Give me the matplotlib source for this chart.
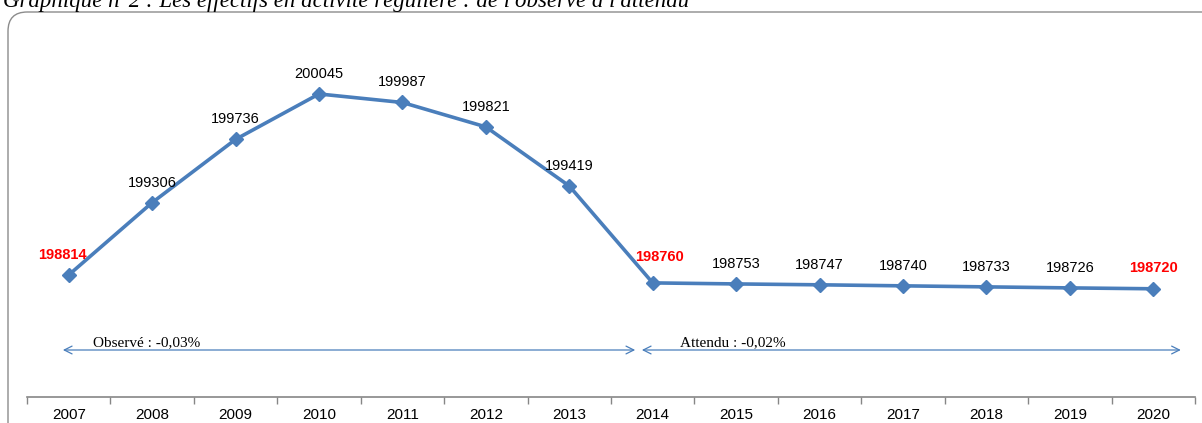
import matplotlib
matplotlib.use("Agg")
import matplotlib.pyplot as plt
from matplotlib.patches import FancyBboxPatch
import matplotlib.transforms as mtransforms

years = ["2007", "2008", "2009", "2010", "2011", "2012", "2013",
         "2014", "2015", "2016", "2017", "2018", "2019", "2020"]
values = [198814, 199306, 199736, 200045, 199987, 199821, 199419,
          198760, 198753, 198747, 198740, 198733, 198726, 198720]
highlight = ["2007", "2014", "2020"]
title = "Graphique n°2 : Les effectifs en activité régulière : de l'observé à l'attendu"
observed_text = "Observé : -0,03%"
expected_text = "Attendu : -0,02%"

W, H = 1202, 423
fig = plt.figure(figsize=(W / 100, H / 100), dpi=100)

# rounded frame (extends past right and bottom edges)
frame = FancyBboxPatch((8 / W, -30 / H), (W + 30) / W, (H - 12 + 30) / H,
                       boxstyle="round,pad=0,rounding_size=0.016",
                       transform=fig.transFigure, facecolor="none",
                       edgecolor="#8c8c8c", linewidth=1.0, zorder=-5,
                       mutation_aspect=W / H)
fig.patches.append(frame)

fig.text(3 / W, (H - 7) / H, title, fontsize=16.5, fontstyle="italic",
         family="Liberation Serif", ha="left", va="baseline")

ax = fig.add_axes([27 / W, (H - 397) / H, (1195 - 27) / W, (397 - 20) / H])
ax.set_facecolor("none")
x = list(range(len(years)))
color = "#4A7EBB"
ax.plot(x, values, color=color, linewidth=2.6, marker="D", markersize=7,
        markerfacecolor=color, markeredgecolor=color, zorder=3)

ax.set_xlim(-0.5, len(years) - 0.5)
ax.set_ylim(197984, 200548)

for sp in ["top", "right", "left"]:
    ax.spines[sp].set_visible(False)
ax.spines["bottom"].set_color("#868686")
ax.spines["bottom"].set_linewidth(1.2)
ax.set_yticks([])
ax.set_xticks(x)
ax.set_xticklabels(years, fontsize=11, family="Liberation Sans")
ax.tick_params(axis="x", length=0, pad=8)
ax.set_xticks([i - 0.5 for i in range(len(years) + 1)], minor=True)
ax.tick_params(axis="x", which="minor", length=5, color="#868686", width=1)

for i, (yr, v) in enumerate(zip(years, values)):
    if yr in highlight:
        dx = {"2007": -6, "2014": 7, "2020": 0}[yr]
        dy = {"2007": 20, "2014": 26, "2020": 21}[yr]
        ax.annotate(str(v), (i, v), xytext=(dx, dy), textcoords="offset pixels",
                    ha="center", va="center", fontsize=10.5, color="red",
                    fontweight="bold", family="Liberation Sans")
    else:
        ax.annotate(str(v), (i, v), xytext=(0, 20), textcoords="offset pixels",
                    ha="center", va="center", fontsize=10.5, color="black",
                    family="Liberation Sans")

trans = mtransforms.blended_transform_factory(ax.transData, ax.transAxes)
yarr = (397 - 350) / 377
ax.annotate("", xy=(-0.07, yarr), xytext=(6.79, yarr), xycoords=trans, textcoords=trans,
            arrowprops=dict(arrowstyle="<->", color=color, lw=0.9,
                            mutation_scale=14, shrinkA=0, shrinkB=0))
ax.annotate("", xy=(6.87, yarr), xytext=(13.33, yarr), xycoords=trans, textcoords=trans,
            arrowprops=dict(arrowstyle="<->", color=color, lw=0.9,
                            mutation_scale=14, shrinkA=0, shrinkB=0))
ax.text(0.29, yarr + 0.002, observed_text, transform=trans, fontsize=11,
        family="Liberation Serif", ha="left", va="bottom")
ax.text(7.33, yarr + 0.002, expected_text, transform=trans, fontsize=11,
        family="Liberation Serif", ha="left", va="bottom")

fig.savefig("out.png", dpi=100)
